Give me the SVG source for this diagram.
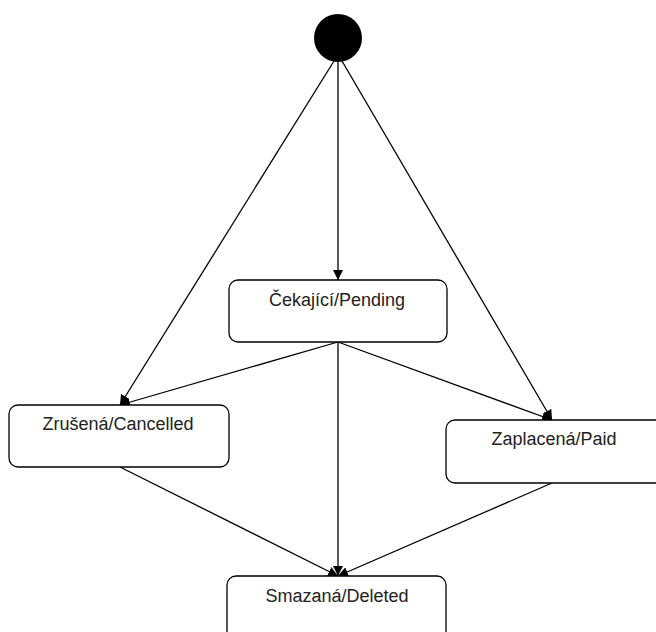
<svg xmlns="http://www.w3.org/2000/svg" width="656" height="632" viewBox="0 0 656 632">
  <defs>
    <marker id="arrow" viewBox="0 0 10 10" refX="10" refY="5" markerWidth="10" markerHeight="10" markerUnits="userSpaceOnUse" orient="auto">
      <path d="M0,0 L10,5 L0,10 Z" fill="#000"/>
    </marker>
    <style>
      .state { fill: #fff; stroke: #000; stroke-width: 1.3; }
      .label { font-family: "Liberation Sans", Arial, sans-serif; font-size: 18px; fill: #222; text-anchor: middle; }
      .edge { fill: none; stroke: #000; stroke-width: 1.3; marker-end: url(#arrow); }
    </style>
  </defs>
  <rect width="656" height="632" fill="#fff"/>

  <g id="edges">
    <line class="edge" x1="338" y1="62" x2="338" y2="280"/>
    <line class="edge" x1="334" y1="61" x2="120" y2="405"/>
    <line class="edge" x1="342" y1="61" x2="552" y2="420"/>
    <line class="edge" x1="338" y1="342" x2="120" y2="405"/>
    <line class="edge" x1="338" y1="342" x2="552" y2="420"/>
    <line class="edge" x1="338" y1="342" x2="338" y2="576"/>
    <line class="edge" x1="120" y1="467" x2="338" y2="576"/>
    <line class="edge" x1="552" y1="483" x2="338" y2="576"/>
  </g>

  <g id="start">
    <circle cx="338" cy="38" r="24" fill="#000"/>
  </g>

  <g id="pending">
    <rect class="state" x="229" y="280" width="218" height="62" rx="9"/>
    <text class="label" x="337" y="306">Čekající/Pending</text>
  </g>

  <g id="cancelled">
    <rect class="state" x="9" y="405" width="220" height="62" rx="9"/>
    <text class="label" x="118" y="430">Zrušená/Cancelled</text>
  </g>

  <g id="paid">
    <rect class="state" x="446" y="420" width="220" height="63" rx="9"/>
    <text class="label" x="554" y="445">Zaplacená/Paid</text>
  </g>

  <g id="deleted">
    <rect class="state" x="227" y="576" width="219" height="70" rx="9"/>
    <text class="label" x="337" y="602">Smazaná/Deleted</text>
  </g>
</svg>
